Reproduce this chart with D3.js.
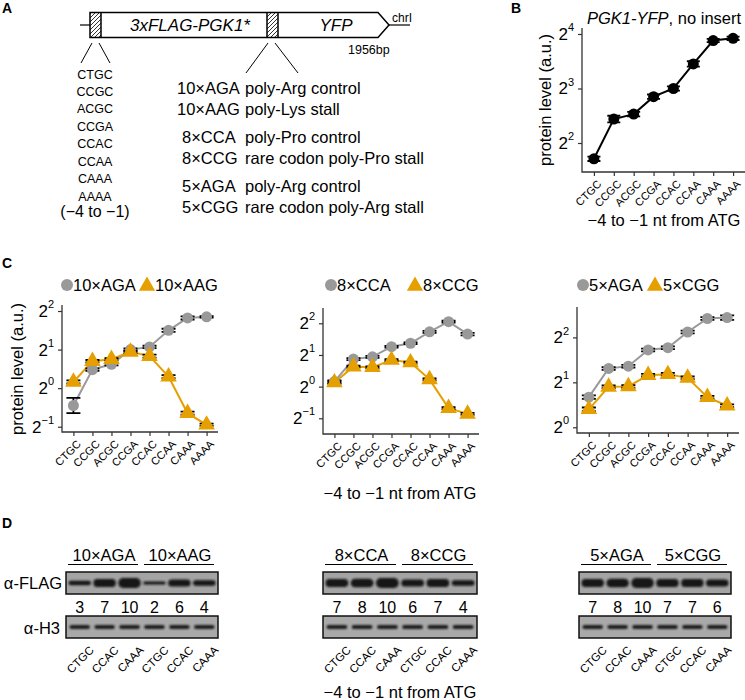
<!DOCTYPE html>
<html>
<head>
<meta charset="utf-8">
<script src="https://cdn.jsdelivr.net/npm/d3@7"></script>
<style>
  body { margin: 0; background: #fff; }
  text { font-family: "Liberation Sans", Arial, Helvetica, sans-serif; }
</style>
</head>
<body>
<div class="chart"></div>
<script>
// -4 to -1 context before ATG
const codons = ["CTGC", "CCGC", "ACGC", "CCGA", "CCAC", "CCAA", "CAAA", "AAAA"];

// panel B: PGK1-YFP, no insert (log2 protein level)
const noInsert    = [1.71, 2.44, 2.53, 2.85, 3.00, 3.45, 3.88, 3.92];
const noInsertErr = [0.04, 0.06, 0.04, 0.04, 0.04, 0.05, 0.03, 0.03];

// panel C (log2 protein level)
const aga10    = [-0.45, 0.48, 0.62, 1.00, 1.07, 1.50, 1.82, 1.85];
const aga10Err = [0.20, 0.03, 0.03, 0.03, 0.03, 0.04, 0.04, 0.02];
const aag10    = [0.16, 0.70, 0.75, 0.94, 0.83, 0.30, -0.65, -0.95];
const aag10Err = [0.04, 0.03, 0.03, 0.03, 0.04, 0.04, 0.04, 0.03];

const cca8     = [0.16, 0.87, 0.94, 1.26, 1.37, 1.73, 2.05, 1.66];
const cca8Err  = [0.04, 0.03, 0.03, 0.03, 0.03, 0.03, 0.03, 0.04];
const ccg8     = [0.13, 0.63, 0.61, 0.84, 0.76, 0.23, -0.68, -0.86];
const ccg8Err  = [0.04, 0.03, 0.03, 0.03, 0.03, 0.03, 0.03, 0.03];

const aga5     = [0.67, 1.31, 1.36, 1.72, 1.77, 2.12, 2.42, 2.44];
const aga5Err  = [0.04, 0.03, 0.03, 0.03, 0.03, 0.03, 0.03, 0.05];
const cgg5     = [0.40, 0.90, 0.91, 1.16, 1.18, 1.10, 0.67, 0.48];
const cgg5Err  = [0.04, 0.03, 0.03, 0.03, 0.03, 0.03, 0.03, 0.03];

// panel A inserts
const insertNames = ["10×AGA", "10×AAG", "8×CCA", "8×CCG", "5×AGA", "5×CGG"];
const insertDescs = ["poly-Arg control", "poly-Lys stall", "poly-Pro control",
                     "rare codon poly-Pro stall", "poly-Arg control", "rare codon poly-Arg stall"];

// panel D western blots
const blotLanes = ["CTGC", "CCAC", "CAAA"];
const flagLevels = [[3, 7, 10, 2, 6, 4], [7, 8, 10, 6, 7, 4], [7, 8, 10, 7, 7, 6]];

const grey = "#999999", orange = "#E69F00";
const xTitle = "\u22124 to \u22121 nt from ATG";

const svg = d3.select(".chart").append("svg")
    .attr("width", 745)
    .attr("height", 700);

const defs = svg.append("defs");
defs.append("pattern")
    .attr("id", "hatch")
    .attr("patternUnits", "userSpaceOnUse")
    .attr("width", 4).attr("height", 4)
    .append("path")
    .attr("d", "M-1,1 l2,-2 M0,4 l4,-4 M3,5 l2,-2")
    .attr("stroke", "#000")
    .attr("stroke-width", 0.8);
defs.append("filter").attr("id", "blur")
    .attr("x", "-20%").attr("y", "-60%").attr("width", "140%").attr("height", "220%")
    .append("feGaussianBlur").attr("stdDeviation", 0.9);

function panelLabel(t, x, y) {
    svg.append("text").attr("x", x).attr("y", y)
        .attr("font-weight", "bold").attr("font-size", 14).text(t);
}
panelLabel("A", 2, 13);
panelLabel("B", 511, 13);
panelLabel("C", 2, 268);
panelLabel("D", 2, 528);

// ---------- A: construct ----------
const A = svg.append("g");
A.append("line").attr("x1", 80).attr("x2", 90).attr("y1", 25).attr("y2", 25).attr("stroke", "#000").attr("stroke-width", 1.2);
A.append("line").attr("x1", 389).attr("x2", 410).attr("y1", 25).attr("y2", 25).attr("stroke", "#000").attr("stroke-width", 1.2);
A.append("rect").attr("x", 90).attr("y", 12.5).attr("width", 11).attr("height", 25).attr("fill", "url(#hatch)");
A.append("rect").attr("x", 267).attr("y", 12.5).attr("width", 11).attr("height", 25).attr("fill", "url(#hatch)");
A.append("path")
    .attr("d", "M90,12.5 H378 L389,25 L378,37.5 H90 Z M101,12.5 V37.5 M267,12.5 V37.5 M278,12.5 V37.5")
    .attr("fill", "none").attr("stroke", "#000").attr("stroke-width", 1.5);
A.append("text").attr("x", 190).attr("y", 31).attr("text-anchor", "middle")
    .attr("font-style", "italic").attr("font-size", 17).text("3xFLAG-PGK1*");
A.append("text").attr("x", 336).attr("y", 31).attr("text-anchor", "middle")
    .attr("font-style", "italic").attr("font-size", 17).text("YFP");
A.append("text").attr("x", 392).attr("y", 22).attr("font-size", 12).text("chrI");
A.append("text").attr("x", 348).attr("y", 54).attr("font-size", 12.5).text("1956bp");
A.append("path")
    .attr("d", "M92,43 L81,63 M99,43 L110,63 M268,43 L246,73 M275,43 L298,73")
    .attr("stroke", "#000").attr("stroke-width", 1).attr("fill", "none");

const codonY = d3.scalePoint().domain(codons).range([74, 196]);
A.selectAll(".codon").data(codons).join("text")
    .attr("x", 95).attr("y", d => codonY(d) + 4.5)
    .attr("text-anchor", "middle").attr("font-size", 12.5)
    .text(d => d);
A.append("text").attr("x", 95).attr("y", 217).attr("text-anchor", "middle")
    .attr("font-size", 16).text("(\u22124 to \u22121)");

const insertY = [94, 115, 143, 164, 192, 213];
A.selectAll(".ins").data(insertNames).join("text")
    .attr("x", (d, i) => i < 2 ? 177 : 182).attr("y", (d, i) => insertY[i])
    .attr("font-size", 16.5).text(d => d);
A.selectAll(".desc").data(insertDescs).join("text")
    .attr("x", 245).attr("y", (d, i) => insertY[i])
    .attr("font-size", 16.5).text(d => d);

// ---------- dot-line panels (B and C) ----------
function supTicks(axisG, supSize) {
    axisG.selectAll(".tick text").each(function(d) {
        const t = d3.select(this).text(null);
        t.append("tspan").text("2");
        t.append("tspan").attr("font-size", supSize).attr("dy", "-0.8em")
            .text(d < 0 ? "\u2212" + (-d) : d);
    });
}

function dotPanel(box, yDomain, yTicks, series, opts) {
    const x = d3.scalePoint().domain(codons).range([box.left, box.right]).padding(0.6);
    const y = d3.scaleLinear().domain(yDomain).range([box.bottom, box.top]);
    const g = svg.append("g");

    const xa = g.append("g").attr("transform", `translate(0,${box.bottom})`)
        .call(d3.axisBottom(x).tickSize(4))
        .attr("font-family", null).attr("font-size", 11);
    xa.select(".domain").remove();
    xa.selectAll(".tick line").attr("stroke", "#333").attr("stroke-width", 1.2);
    xa.selectAll(".tick text").attr("x", 0).attr("y", 0).attr("dy", "0.35em")
        .attr("fill", "#000").attr("text-anchor", "end")
        .attr("transform", "translate(5,10) rotate(-45)");

    const ya = g.append("g").attr("transform", `translate(${box.left},0)`)
        .call(d3.axisLeft(y).tickValues(yTicks).tickSize(4).tickPadding(4))
        .attr("font-family", null).attr("font-size", opts.tickSize);
    ya.select(".domain").remove();
    ya.selectAll(".tick line").attr("stroke", "#333").attr("stroke-width", 1.2);
    ya.selectAll(".tick text").attr("fill", "#000");
    supTicks(ya, opts.supSize);

    g.append("path")
        .attr("d", `M${box.left},${box.top} V${box.bottom} H${box.right}`)
        .attr("fill", "none").attr("stroke", "#333").attr("stroke-width", 1.3);

    const line = d3.line().x((d, i) => x(codons[i])).y(d => y(d));
    series.forEach(s => {
        g.append("path").datum(s.values).attr("d", line)
            .attr("fill", "none").attr("stroke", s.color).attr("stroke-width", 2);
    });
    series.forEach(s => {
        const eb = g.append("g").attr("stroke", "#000").attr("stroke-width", 1.8);
        s.values.forEach((v, i) => {
            const cx = x(codons[i]), lo = y(v - s.err[i]), hi = y(v + s.err[i]);
            eb.append("path").attr("d",
                `M${cx - opts.cap},${hi} H${cx + opts.cap} M${cx},${hi} V${lo} M${cx - opts.cap},${lo} H${cx + opts.cap}`);
        });
    });
    series.forEach(s => {
        const sym = d3.symbol(s.shape === "tri" ? d3.symbolTriangle : d3.symbolCircle, s.shape === "tri" ? 120 : 95);
        g.selectAll(null).data(s.values).join("path")
            .attr("d", sym)
            .attr("transform", (d, i) => `translate(${x(codons[i])},${y(d)})`)
            .attr("fill", s.color);
    });

    if (opts.yLabel) {
        g.append("text").attr("transform", `translate(${opts.yLabel[0]},${opts.yLabel[1]}) rotate(-90)`)
            .attr("dy", "0.35em").attr("text-anchor", "middle").attr("font-size", 16.5)
            .text("protein level (a.u.)");
    }
    if (opts.xLabel) {
        g.append("text").attr("x", opts.xLabel[0]).attr("y", opts.xLabel[1])
            .attr("text-anchor", "middle").attr("font-size", 16.5).text(xTitle);
    }
    if (opts.legend) {
        const [lx, ly, names, triX] = opts.legend;
        const lg = g.append("g").attr("transform", `translate(${lx},${ly})`);
        lg.append("circle").attr("cx", 0).attr("cy", 0).attr("r", 6).attr("fill", grey);
        lg.append("text").attr("x", 6).attr("y", 6).attr("font-size", 16.5).text(names[0]);
        lg.append("path").attr("d", d3.symbol(d3.symbolTriangle, 115))
            .attr("transform", `translate(${triX},1)`).attr("fill", orange);
        lg.append("text").attr("x", triX + 8).attr("y", 6).attr("font-size", 16.5).text(names[1]);
    }
}

// B
dotPanel({left: 582, right: 745, top: 28, bottom: 172}, [1.468, 4.11], [2, 3, 4],
    [{values: noInsert, err: noInsertErr, color: "#000", shape: "circle"}],
    {tickSize: 17, supSize: 11, cap: 6.5, yLabel: [545, 100], xLabel: [664, 226]});
svg.append("text").attr("x", 587).attr("y", 24).attr("font-size", 16.5)
    .call(t => t.append("tspan").attr("font-style", "italic").text("PGK1-YFP"))
    .call(t => t.append("tspan").text(", no insert"));

// C
dotPanel({left: 62, right: 218, top: 305, bottom: 432}, [-1.137, 2.156], [-1, 0, 1, 2],
    [{values: aga10, err: aga10Err, color: grey, shape: "circle"},
     {values: aag10, err: aag10Err, color: orange, shape: "tri"}],
    {tickSize: 17, supSize: 11, cap: 7, yLabel: [17, 369], legend: [67, 285, [insertNames[0], insertNames[1]], 80]});
dotPanel({left: 323, right: 479, top: 308, bottom: 434}, [-1.496, 2.483], [-1, 0, 1, 2],
    [{values: cca8, err: cca8Err, color: grey, shape: "circle"},
     {values: ccg8, err: ccg8Err, color: orange, shape: "tri"}],
    {tickSize: 17, supSize: 11, cap: 7, xLabel: [400, 499], legend: [331, 285, [insertNames[2], insertNames[3]], 84]});
dotPanel({left: 577, right: 739, top: 307, bottom: 433}, [-0.127, 2.676], [0, 1, 2],
    [{values: aga5, err: aga5Err, color: grey, shape: "circle"},
     {values: cgg5, err: cgg5Err, color: orange, shape: "tri"}],
    {tickSize: 17, supSize: 11, cap: 7, legend: [583, 285, [insertNames[4], insertNames[5]], 72]});

// ---------- D: western blots ----------
const blots = [[66, 218], [323, 477], [579, 731]];
const bandH = d3.scaleSqrt().domain([2, 10]).range([3, 10]);

blots.forEach(([bx0, bx1], k) => {
    const g = svg.append("g");
    const lane = d3.scaleBand().domain(d3.range(6)).range([bx0, bx1]).paddingInner(0.1).paddingOuter(0.1);
    const mid = (bx0 + bx1) / 2;

    // group headers
    [[bx0, mid], [mid, bx1]].forEach(([a, b], j) => {
        g.append("text").attr("x", (a + b) / 2).attr("y", 561).attr("text-anchor", "middle")
            .attr("font-size", 16.5).text(insertNames[k * 2 + j]);
        g.append("line").attr("x1", a + 2).attr("x2", b - 4).attr("y1", 564.5).attr("y2", 564.5)
            .attr("stroke", "#000").attr("stroke-width", 1.2);
    });

    // FLAG blot
    g.append("rect").attr("x", bx0).attr("y", 572).attr("width", bx1 - bx0).attr("height", 22)
        .attr("fill", "#a4a4a4").attr("stroke", "#111").attr("stroke-width", 1.5);
    g.selectAll(".flag").data(flagLevels[k]).join("rect")
        .attr("x", (d, i) => lane(i)).attr("width", lane.bandwidth())
        .attr("y", d => 583 - bandH(d) / 2).attr("height", d => bandH(d))
        .attr("rx", d => bandH(d) / 2)
        .attr("fill", "#121212").attr("filter", "url(#blur)");
    g.selectAll(".num").data(flagLevels[k]).join("text")
        .attr("x", (d, i) => lane(i) + lane.bandwidth() / 2).attr("y", 613)
        .attr("text-anchor", "middle").attr("font-size", 16).text(d => d);

    // H3 blot
    g.append("rect").attr("x", bx0).attr("y", 616).attr("width", bx1 - bx0).attr("height", 22)
        .attr("fill", "#a9a9a9").attr("stroke", "#111").attr("stroke-width", 1.5);
    g.selectAll(".h3").data(d3.range(6)).join("rect")
        .attr("x", i => lane(i) + 1).attr("width", lane.bandwidth() - 2)
        .attr("y", 625).attr("height", 4).attr("rx", 2)
        .attr("fill", "#1a1a1a").attr("filter", "url(#blur)");

    g.selectAll(".lane").data(blotLanes.concat(blotLanes)).join("text")
        .attr("transform", (d, i) => `translate(${lane(i) + lane.bandwidth() / 2 + 12},648) rotate(-45)`)
        .attr("dy", "0.35em").attr("text-anchor", "end").attr("font-size", 11.5).text(d => d);
});

svg.append("text").attr("x", 62).attr("y", 589).attr("text-anchor", "end").attr("font-size", 16.5).text("\u03b1-FLAG");
svg.append("text").attr("x", 60).attr("y", 634).attr("text-anchor", "end").attr("font-size", 16.5).text("\u03b1-H3");
svg.append("text").attr("x", 400).attr("y", 698).attr("text-anchor", "middle").attr("font-size", 16.5).text(xTitle);
</script>
</body>
</html>
